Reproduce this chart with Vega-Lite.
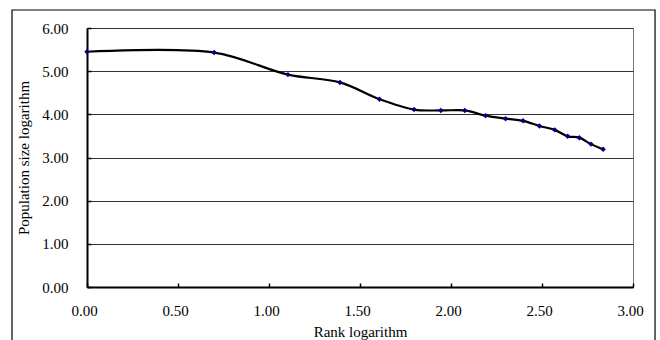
{
  "$schema": "https://vega.github.io/schema/vega-lite/v6.json",
  "autosize": "none",
  "width": 546,
  "height": 259,
  "padding": {"left": 87, "top": 28, "right": 27, "bottom": 53},
  "background": "white",
  "config": {
    "font": "Liberation Serif",
    "view": {"stroke": "#777777", "strokeWidth": 1},
    "axis": {
      "labelFont": "Liberation Serif",
      "titleFont": "Liberation Serif",
      "labelColor": "black",
      "titleColor": "black",
      "labelFontSize": 15,
      "titleFontSize": 15,
      "titleFontWeight": "normal",
      "domainColor": "black",
      "domainWidth": 2,
      "tickColor": "black",
      "tickWidth": 1.5
    }
  },
  "data": {
    "values": [
      {"rank_log": 0.0, "pop_log": 5.45},
      {"rank_log": 0.699, "pop_log": 5.43},
      {"rank_log": 1.104, "pop_log": 4.92},
      {"rank_log": 1.39, "pop_log": 4.74},
      {"rank_log": 1.607, "pop_log": 4.35},
      {"rank_log": 1.797, "pop_log": 4.11},
      {"rank_log": 1.944, "pop_log": 4.09},
      {"rank_log": 2.076, "pop_log": 4.09},
      {"rank_log": 2.19, "pop_log": 3.97},
      {"rank_log": 2.3, "pop_log": 3.9},
      {"rank_log": 2.396, "pop_log": 3.85},
      {"rank_log": 2.486, "pop_log": 3.73},
      {"rank_log": 2.57, "pop_log": 3.64},
      {"rank_log": 2.641, "pop_log": 3.49},
      {"rank_log": 2.705, "pop_log": 3.46},
      {"rank_log": 2.769, "pop_log": 3.31},
      {"rank_log": 2.836, "pop_log": 3.19}
    ]
  },
  "layer": [
    {
      "data": {"values": [{}]},
      "mark": {"type": "rect", "fill": null, "stroke": "black", "strokeWidth": 1.2, "clip": false},
      "encoding": {
        "x": {"datum": -0.412, "type": "quantitative", "scale": {"domain": [0, 3], "nice": false, "zero": false}},
        "x2": {"datum": 3.121},
        "y": {"datum": 6.417, "type": "quantitative", "scale": {"domain": [0, 6], "nice": false, "zero": false}},
        "y2": {"datum": -2.0}
      }
    },
    {
      "mark": {"type": "line", "interpolate": "catmull-rom", "color": "black", "strokeWidth": 2.2},
      "encoding": {
        "x": {
          "field": "rank_log", "type": "quantitative",
          "scale": {"domain": [0, 3], "nice": false, "zero": false},
          "axis": {"values": [0, 0.5, 1, 1.5, 2, 2.5, 3], "format": ".2f", "title": "Rank logarithm", "grid": false, "tickSize": -4, "labelPadding": 20, "labelFlush": false, "labelOffset": -3, "titlePadding": 6}
        },
        "y": {
          "field": "pop_log", "type": "quantitative",
          "scale": {"domain": [0, 6], "nice": false, "zero": false},
          "axis": {"values": [0, 1, 2, 3, 4, 5, 6], "format": ".2f", "title": "Population size logarithm", "grid": true, "gridColor": "#333333", "gridWidth": 1, "gridOpacity": 1, "tickSize": -4, "labelPadding": 23, "labelFlush": false, "titlePadding": 10}
        }
      }
    },
    {
      "mark": {"type": "point", "shape": "diamond", "filled": true, "color": "#000080", "size": 30, "opacity": 1},
      "encoding": {
        "x": {"field": "rank_log", "type": "quantitative"},
        "y": {"field": "pop_log", "type": "quantitative"}
      }
    }
  ]
}
